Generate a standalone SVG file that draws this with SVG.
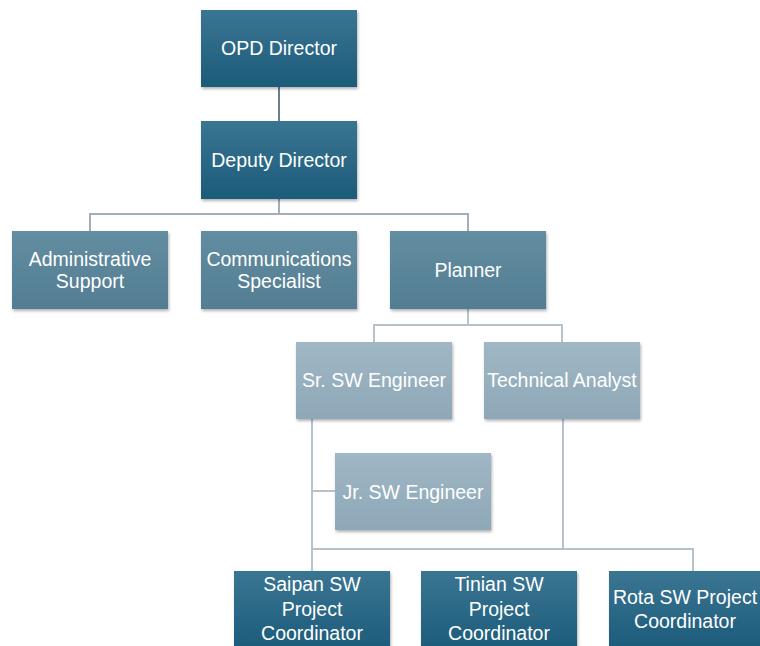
<svg xmlns="http://www.w3.org/2000/svg" width="760" height="646" viewBox="0 0 760 646">
  <style>
    .lbl { font-family: "Liberation Sans", Arial, sans-serif; font-size: 19.5px; fill: #ffffff; text-anchor: middle; dominant-baseline: central; }
    .link { fill: none; stroke-width: 2; }
    .l1 { stroke: #6a7f8e; }
    .l2 { stroke: #a2afba; }
    .l3 { stroke: #b7c3cc; }
    .dark { fill: url(#gDark); filter: url(#shadow); }
    .mid { fill: url(#gMid); filter: url(#shadow); }
    .light { fill: url(#gLight); filter: url(#shadow); }
  </style>
  <defs>
    <linearGradient id="gDark" x1="0" y1="0" x2="0" y2="1">
      <stop offset="0" stop-color="#3a7592"/>
      <stop offset="1" stop-color="#1c5b7a"/>
    </linearGradient>
    <linearGradient id="gMid" x1="0" y1="0" x2="0" y2="1">
      <stop offset="0" stop-color="#638da1"/>
      <stop offset="1" stop-color="#527d92"/>
    </linearGradient>
    <linearGradient id="gLight" x1="0" y1="0" x2="0" y2="1">
      <stop offset="0" stop-color="#a0b7c5"/>
      <stop offset="1" stop-color="#8ea8b7"/>
    </linearGradient>
    <filter id="shadow" x="-10%" y="-10%" width="125%" height="130%">
      <feDropShadow dx="1" dy="2" stdDeviation="1.5" flood-color="#000000" flood-opacity="0.3"/>
    </filter>
  </defs>

  <!-- connectors -->
  <g id="connectors">
    <path class="link l1" d="M279 87 V121"/>
    <path class="link l2" d="M279 199 V214 M90 231 V214 H468 V231"/>
    <path class="link l3" d="M468 309 V325 M374 342 V325 H562 V342"/>
    <path class="link l3" d="M312 419 V549 M312 491 H335"/>
    <path class="link l3" d="M563 419 V549"/>
    <path class="link l3" d="M312 549 H693 V571 M312 549 V571"/>
  </g>

  <g id="opd-director">
    <rect class="dark" x="201" y="10" width="156" height="77"/>
    <text class="lbl" x="279" y="48">OPD Director</text>
  </g>
  <g id="deputy-director">
    <rect class="dark" x="201" y="121" width="156" height="78"/>
    <text class="lbl" x="279" y="160">Deputy Director</text>
  </g>

  <g id="administrative-support">
    <rect class="mid" x="12" y="231" width="156" height="78"/>
    <text class="lbl" x="90" y="259">Administrative</text>
    <text class="lbl" x="90" y="281">Support</text>
  </g>
  <g id="communications-specialist">
    <rect class="mid" x="201" y="231" width="156" height="78"/>
    <text class="lbl" x="279" y="259">Communications</text>
    <text class="lbl" x="279" y="281">Specialist</text>
  </g>
  <g id="planner">
    <rect class="mid" x="390" y="231" width="156" height="78"/>
    <text class="lbl" x="468" y="270">Planner</text>
  </g>

  <g id="sr-sw-engineer">
    <rect class="light" x="296" y="342" width="156" height="77"/>
    <text class="lbl" x="374" y="380">Sr. SW Engineer</text>
  </g>
  <g id="technical-analyst">
    <rect class="light" x="484" y="342" width="156" height="77"/>
    <text class="lbl" x="562" y="380">Technical Analyst</text>
  </g>
  <g id="jr-sw-engineer">
    <rect class="light" x="335" y="453" width="156" height="77"/>
    <text class="lbl" x="413" y="492">Jr. SW Engineer</text>
  </g>

  <g id="saipan-coordinator">
    <rect class="dark" x="234" y="571" width="156" height="80"/>
    <text class="lbl" x="312" y="584">Saipan SW</text>
    <text class="lbl" x="312" y="609">Project</text>
    <text class="lbl" x="312" y="633">Coordinator</text>
  </g>
  <g id="tinian-coordinator">
    <rect class="dark" x="421" y="571" width="156" height="80"/>
    <text class="lbl" x="499" y="584">Tinian SW</text>
    <text class="lbl" x="499" y="609">Project</text>
    <text class="lbl" x="499" y="633">Coordinator</text>
  </g>
  <g id="rota-coordinator">
    <rect class="dark" x="609" y="571" width="156" height="80"/>
    <text class="lbl" x="685" y="597">Rota SW Project</text>
    <text class="lbl" x="685" y="621">Coordinator</text>
  </g>
</svg>
